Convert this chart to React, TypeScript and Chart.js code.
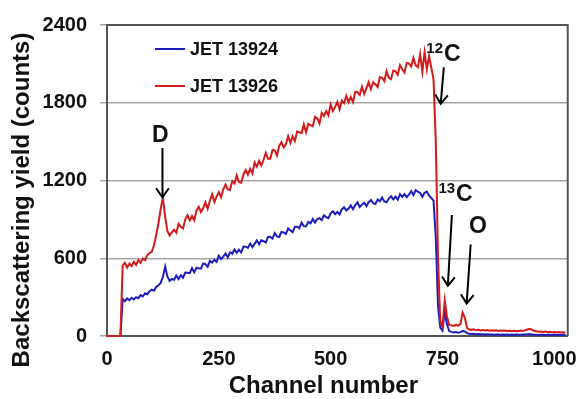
import { useEffect, useRef } from "react";
import { Chart, registerables } from "chart.js";

Chart.register(...registerables);

// Channel numbers (x values), every 5th channel
const channels = [
  0, 5, 10, 15, 20, 25, 30, 35, 40, 45,
  50, 55, 60, 65, 70, 75, 80, 85, 90, 95,
  100, 105, 110, 115, 120, 125, 130, 135, 140, 145,
  150, 155, 160, 165, 170, 175, 180, 185, 190, 195,
  200, 205, 210, 215, 220, 225, 230, 235, 240, 245,
  250, 255, 260, 265, 270, 275, 280, 285, 290, 295,
  300, 305, 310, 315, 320, 325, 330, 335, 340, 345,
  350, 355, 360, 365, 370, 375, 380, 385, 390, 395,
  400, 405, 410, 415, 420, 425, 430, 435, 440, 445,
  450, 455, 460, 465, 470, 475, 480, 485, 490, 495,
  500, 505, 510, 515, 520, 525, 530, 535, 540, 545,
  550, 555, 560, 565, 570, 575, 580, 585, 590, 595,
  600, 605, 610, 615, 620, 625, 630, 635, 640, 645,
  650, 655, 660, 665, 670, 675, 680, 685, 690, 695,
  700, 705, 710, 715, 720, 725, 730, 735, 740, 745,
  750, 755, 760, 765, 770, 775, 780, 785, 790, 795,
  800, 805, 810, 815, 820, 825, 830, 835, 840, 845,
  850, 855, 860, 865, 870, 875, 880, 885, 890, 895,
  900, 905, 910, 915, 920, 925, 930, 935, 940, 945,
  950, 955, 960, 965, 970, 975, 980, 985, 990, 995,
  1000, 1005, 1010, 1015, 1020, 1025,
];

// JET 13924 (blue)
const jet13924 = [
  0, 0, 0, 0, 0, 0, 0, 285, 268, 290,
  276, 295, 282, 300, 292, 315, 305, 330, 322, 345,
  358, 350, 378, 392, 410, 455, 535, 460, 425, 440,
  434, 467, 440, 469, 450, 490, 488, 485, 524, 491,
  527, 523, 520, 560, 555, 534, 580, 567, 589, 572,
  620, 594, 613, 637, 608, 647, 635, 668, 642, 666,
  644, 690, 689, 680, 714, 685, 711, 738, 708, 739,
  732, 722, 765, 764, 751, 794, 769, 764, 803, 800,
  788, 830, 815, 802, 844, 844, 832, 874, 848, 845,
  880, 870, 903, 875, 903, 909, 894, 932, 918, 909,
  947, 963, 940, 957, 938, 977, 993, 969, 984, 1008,
  979, 1010, 1032, 996, 1014, 1029, 1003, 1033, 1050, 1025,
  1019, 1053, 1040, 1069, 1038, 1032, 1061, 1078, 1054, 1076,
  1052, 1095, 1073, 1094, 1071, 1091, 1117, 1087, 1125, 1114,
  1104, 1074, 1106, 1114, 1083, 1065, 1045, 760, 230, 65,
  42, 190, 90, 38, 32, 28, 30, 26, 30, 38,
  35, 22, 18, 16, 17, 14, 15, 13, 14, 12,
  13, 11, 12, 10, 12, 11, 10, 12, 9, 11,
  10, 12, 9, 11, 10, 9, 11, 12, 14, 13,
  11, 9, 10, 8, 10, 9, 8, 10, 9, 8,
  9, 8, 10, 7, 9, 8,
];

// JET 13926 (red)
const jet13926 = [
  0, 0, 0, 0, 0, 0, 0, 545, 565, 528,
  558, 540, 572, 548, 585, 565, 598, 585, 622, 640,
  650, 700, 780, 870, 980, 1070, 920, 810, 775, 800,
  820, 797, 866, 842, 829, 901, 933, 892, 926, 893,
  967, 998, 957, 986, 1033, 982, 1044, 1093, 1034, 1076,
  1110, 1070, 1132, 1168, 1131, 1127, 1195, 1177, 1239, 1188,
  1183, 1245, 1280, 1245, 1291, 1255, 1339, 1307, 1352, 1316,
  1360, 1414, 1367, 1367, 1436, 1432, 1393, 1467, 1496, 1456,
  1482, 1542, 1490, 1540, 1504, 1578, 1572, 1565, 1633, 1573,
  1637, 1627, 1619, 1691, 1680, 1640, 1722, 1698, 1736, 1703,
  1788, 1736, 1768, 1807, 1750, 1817, 1796, 1854, 1804, 1844,
  1805, 1885, 1881, 1861, 1923, 1868, 1913, 1959, 1904, 1958,
  1943, 1921, 1998, 1993, 1966, 2043, 1993, 1982, 2048, 2042,
  2016, 2089, 2059, 2033, 2106, 2103, 2080, 2146, 2090, 2075,
  2175, 2040, 2190, 2060, 2160, 2070, 1980, 1500, 600, 110,
  75, 275, 150, 85, 82, 78, 86, 80, 92, 180,
  140, 62, 50, 46, 52, 44, 48, 43, 47, 42,
  46, 41, 45, 40, 44, 39, 43, 40, 42, 38,
  41, 37, 40, 36, 39, 42, 38, 45, 50, 55,
  48, 40, 36, 33, 35, 31, 34, 30, 32, 29,
  31, 28, 30, 27, 29, 26,
];

const seriesNames = ["JET 13924", "JET 13926"];
const seriesColors = ["#1e1ebe", "#d41a1a"];
const xTicks = [0, 250, 500, 750, 1000];
const yTicks = [0, 600, 1200, 1800, 2400];
const xTitle = "Channel number";
const yTitle = "Backscattering yield (counts)";

// Peak labels (data coordinates) and arrows pointing to the peaks
const peakLabels = [
  { sup: "", text: "D", ch: 119, val: 1549 },
  { sup: "12", text: "C", ch: 772, val: 2172 },
  { sup: "13", text: "C", ch: 799, val: 1093 },
  { sup: "", text: "O", ch: 829, val: 843 },
];
const peakArrows = [
  { fromCh: 124, fromVal: 1450, toCh: 124, toVal: 1071 },
  { fromCh: 753, fromVal: 2073, toCh: 746, toVal: 1792 },
  { fromCh: 771, fromVal: 934, toCh: 762, toVal: 387 },
  { fromCh: 813, fromVal: 706, toCh: 804, toVal: 250 },
];

const FONT = "Arial, 'Liberation Sans', sans-serif";

const extrasPlugin = {
  id: "extras",
  afterDraw(chart: any) {
    const { ctx, chartArea: a, scales } = chart;
    const xs = scales.x;
    const ys = scales.y;
    ctx.save();
    // top and right frame
    ctx.strokeStyle = "#555";
    ctx.lineWidth = 2;
    ctx.beginPath();
    ctx.moveTo(a.left, a.top);
    ctx.lineTo(a.right, a.top);
    ctx.lineTo(a.right, a.bottom);
    ctx.stroke();

    // legend inside plot
    seriesNames.forEach((name, i) => {
      const ly = a.top + 24 + i * 37;
      ctx.strokeStyle = seriesColors[i];
      ctx.lineWidth = 2;
      ctx.beginPath();
      ctx.moveTo(a.left + 48, ly);
      ctx.lineTo(a.left + 78, ly);
      ctx.stroke();
      ctx.fillStyle = "#111";
      ctx.font = `bold 18px ${FONT}`;
      ctx.textAlign = "left";
      ctx.textBaseline = "middle";
      ctx.fillText(name, a.left + 83, ly + 1);
    });

    // arrows
    ctx.strokeStyle = "#000";
    ctx.lineWidth = 2;
    peakArrows.forEach((ar) => {
      const x1 = xs.getPixelForValue(ar.fromCh);
      const y1 = ys.getPixelForValue(ar.fromVal);
      const x2 = xs.getPixelForValue(ar.toCh);
      const y2 = ys.getPixelForValue(ar.toVal);
      const ang = Math.atan2(y2 - y1, x2 - x1);
      const hl = 11;
      const spread = 0.62;
      ctx.beginPath();
      ctx.moveTo(x1, y1);
      ctx.lineTo(x2, y2);
      ctx.moveTo(x2 - hl * Math.cos(ang - spread), y2 - hl * Math.sin(ang - spread));
      ctx.lineTo(x2, y2);
      ctx.lineTo(x2 - hl * Math.cos(ang + spread), y2 - hl * Math.sin(ang + spread));
      ctx.stroke();
    });

    // labels
    peakLabels.forEach((lb) => {
      const px = xs.getPixelForValue(lb.ch);
      const py = ys.getPixelForValue(lb.val);
      ctx.fillStyle = "#111";
      ctx.font = `bold 23px ${FONT}`;
      ctx.textAlign = "center";
      ctx.textBaseline = "middle";
      ctx.fillText(lb.text, px, py);
      if (lb.sup) {
        const w = ctx.measureText(lb.text).width;
        ctx.font = `bold 15px ${FONT}`;
        ctx.textAlign = "right";
        ctx.fillText(lb.sup, px - w / 2 - 1, py - 6);
      }
    });

    // axis titles
    ctx.fillStyle = "#111";
    ctx.font = `bold 24px ${FONT}`;
    ctx.textAlign = "center";
    ctx.textBaseline = "alphabetic";
    ctx.fillText(xTitle, (a.left + a.right) / 2 - 14, 393);
    ctx.save();
    ctx.translate(29, 200);
    ctx.rotate(-Math.PI / 2);
    ctx.fillText(yTitle, 0, 0);
    ctx.restore();

    ctx.restore();
  },
};

export default function App() {
  const canvasRef = useRef<HTMLCanvasElement | null>(null);

  useEffect(() => {
    const canvas = canvasRef.current;
    if (!canvas) return;
    const toPoints = (vals: number[]) => channels.map((c, i) => ({ x: c, y: vals[i] }));
    const chart = new Chart(canvas, {
      type: "line",
      data: {
        datasets: [
          {
            label: seriesNames[0],
            data: toPoints(jet13924),
            borderColor: seriesColors[0],
            backgroundColor: seriesColors[0],
            borderWidth: 2,
            pointRadius: 0,
            clip: false as any,
            order: 1,
          },
          {
            label: seriesNames[1],
            data: toPoints(jet13926),
            borderColor: seriesColors[1],
            backgroundColor: seriesColors[1],
            borderWidth: 2,
            pointRadius: 0,
            clip: false as any,
            order: 0,
          },
        ],
      },
      options: {
        animation: false,
        responsive: false,
        devicePixelRatio: 1,
        layout: { padding: { top: 19, right: 15, left: 0, bottom: 0 } },
        plugins: { legend: { display: false }, tooltip: { enabled: false } },
        scales: {
          x: {
            type: "linear",
            min: 0,
            max: 1030,
            afterBuildTicks: (s: any) => {
              s.ticks = xTicks.map((v) => ({ value: v }));
            },
            afterFit: (s: any) => {
              s.height = 63;
            },
            grid: { display: false, drawTicks: false },
            border: { display: true, color: "#555", width: 2 },
            ticks: {
              padding: 11,
              color: "#111",
              font: { family: FONT, size: 20, weight: "bold" },
              maxRotation: 0,
              autoSkip: false,
              callback: (v: any) => String(v),
            },
          },
          y: {
            type: "linear",
            min: 0,
            max: 2400,
            afterBuildTicks: (s: any) => {
              s.ticks = yTicks.map((v) => ({ value: v }));
            },
            afterFit: (s: any) => {
              s.width = 107;
            },
            grid: { color: "#a6a6a6", lineWidth: 1.5, tickLength: 7, drawTicks: true },
            border: { display: true, color: "#555", width: 2 },
            ticks: {
              padding: 13,
              color: "#111",
              font: { family: FONT, size: 20, weight: "bold" },
              autoSkip: false,
              callback: (v: any) => String(v),
            },
          },
        },
      } as any,
      plugins: [extrasPlugin],
    });
    return () => chart.destroy();
  }, []);

  return (
    <div style={{ position: "fixed", left: 0, top: 0, width: 588, height: 399, background: "#fff" }}>
      <canvas ref={canvasRef} width={588} height={399} />
    </div>
  );
}
